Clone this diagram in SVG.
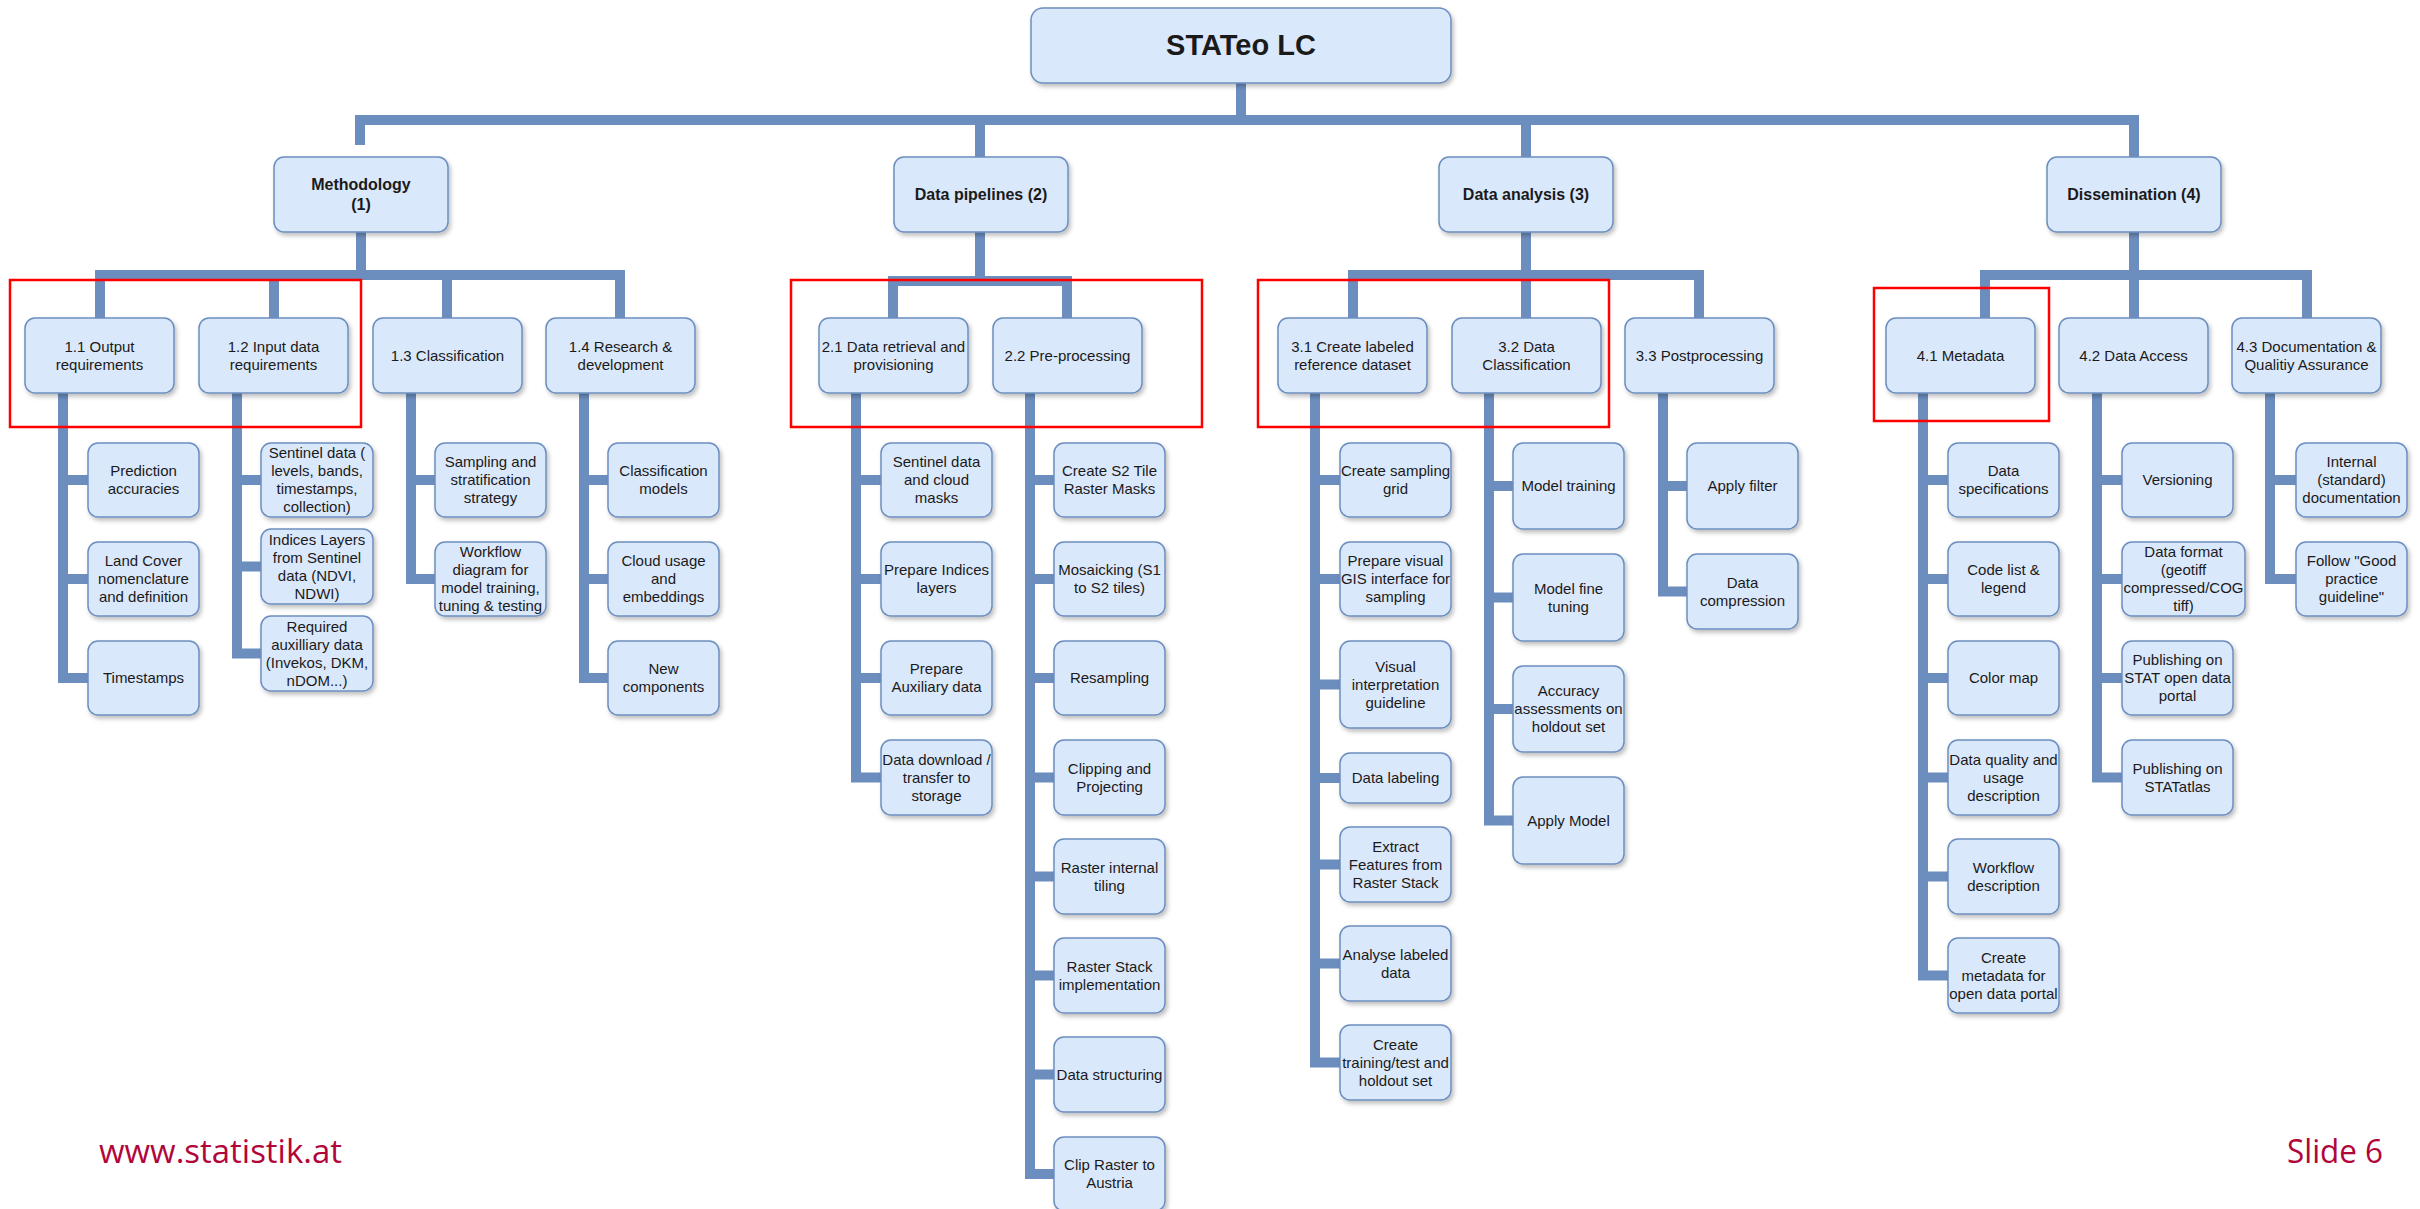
<svg xmlns="http://www.w3.org/2000/svg" width="2420" height="1209" viewBox="0 0 2420 1209">
<defs>
<filter id="sh" x="-10%" y="-10%" width="130%" height="140%">
<feDropShadow dx="2" dy="3" stdDeviation="2" flood-color="#000" flood-opacity="0.25"/>
</filter>
<style>
.box{fill:#dae8fc;stroke:#6c8ebf;stroke-width:1.5;filter:url(#sh)}
.t{font-family:"Liberation Sans",Arial,sans-serif;font-size:15px;fill:#1a1a1a;text-anchor:middle}
.b{font-weight:bold;font-size:16px}
.c{fill:none;stroke:#6c8ebf;stroke-width:10;stroke-linejoin:miter}
.red{fill:none;stroke:#ff0000;stroke-width:2.5}
.foot{font-family:"Open Sans","Liberation Sans",sans-serif;font-size:33px;fill:#b1063a}
</style>
</defs>
<rect width="2420" height="1209" fill="#ffffff"/>

<g id="connectors" class="c">
<path d="M1241 83V120H360V145"/>
<path d="M1241 120H980V157"/>
<path d="M1241 120H1526V157"/>
<path d="M1241 120H2134V157"/>
<path d="M361 232V275H100V318M361 275H274V318M361 275H447V318M361 275H620V318"/>
<path d="M980 232V281H893V318M980 281H1067V318"/>
<path d="M1526 232V318M1526 275H1353V318M1526 275H1699V318"/>
<path d="M2134 232V318M2134 275H1985V318M2134 275H2307V318"/>
<path d="M63 393V678H88M63 480H88M63 579H88"/>
<path d="M237 393V653.5H261M237 480H261M237 566.5H261"/>
<path d="M411 393V579H435M411 480H435"/>
<path d="M584 393V678H608M584 480H608M584 579H608"/>
<path d="M856 393V777.5H881M856 480H881M856 579H881M856 678H881"/>
<path d="M1030 393V1174H1054M1030 480H1054M1030 579H1054M1030 678H1054M1030 777.5H1054M1030 876.5H1054M1030 975.5H1054M1030 1074.5H1054"/>
<path d="M1315 393V1062.5H1340M1315 480H1340M1315 579H1340M1315 684.5H1340M1315 778H1340M1315 864.5H1340M1315 963.5H1340"/>
<path d="M1489 393V820.5H1513M1489 486H1513M1489 597.5H1513M1489 709H1513"/>
<path d="M1663 393V591.5H1687M1663 486H1687"/>
<path d="M1923 393V975.5H1948M1923 480H1948M1923 579H1948M1923 678H1948M1923 777.5H1948M1923 876.5H1948"/>
<path d="M2097 393V777.5H2122M2097 480H2122M2097 579H2122M2097 678H2122"/>
<path d="M2270 393V579H2296M2270 480H2296"/>
</g>

<g id="root"><rect class="box" x="1031" y="8" width="420" height="75" rx="12"/><text class="t" x="1241" y="55" style="font-weight:bold;font-size:29px">STATeo LC</text></g>

<g id="n1"><rect class="box" x="274" y="157" width="174" height="75" rx="10"/><text class="t b"><tspan x="361" y="190">Methodology</tspan><tspan x="361" y="210">(1)</tspan></text></g>
<g id="n2"><rect class="box" x="894" y="157" width="174" height="75" rx="10"/><text class="t b" x="981" y="200">Data pipelines (2)</text></g>
<g id="n3"><rect class="box" x="1439" y="157" width="174" height="75" rx="10"/><text class="t b" x="1526" y="200">Data analysis (3)</text></g>
<g id="n4"><rect class="box" x="2047" y="157" width="174" height="75" rx="10"/><text class="t b" x="2134" y="200">Dissemination (4)</text></g>

<g id="n1_1"><rect class="box" x="25" y="318" width="149" height="75" rx="10"/><text class="t"><tspan x="99.5" y="351.5">1.1 Output</tspan><tspan x="99.5" y="369.5">requirements</tspan></text></g>
<g id="n1_2"><rect class="box" x="199" y="318" width="149" height="75" rx="10"/><text class="t"><tspan x="273.5" y="351.5">1.2 Input data</tspan><tspan x="273.5" y="369.5">requirements</tspan></text></g>
<g id="n1_3"><rect class="box" x="373" y="318" width="149" height="75" rx="10"/><text class="t" x="447.5" y="360.5">1.3 Classification</text></g>
<g id="n1_4"><rect class="box" x="546" y="318" width="149" height="75" rx="10"/><text class="t"><tspan x="620.5" y="351.5">1.4 Research &amp;</tspan><tspan x="620.5" y="369.5">development</tspan></text></g>
<g id="n2_1"><rect class="box" x="819" y="318" width="149" height="75" rx="10"/><text class="t"><tspan x="893.5" y="351.5">2.1 Data retrieval and</tspan><tspan x="893.5" y="369.5">provisioning</tspan></text></g>
<g id="n2_2"><rect class="box" x="993" y="318" width="149" height="75" rx="10"/><text class="t" x="1067.5" y="360.5">2.2 Pre-processing</text></g>
<g id="n3_1"><rect class="box" x="1278" y="318" width="149" height="75" rx="10"/><text class="t"><tspan x="1352.5" y="351.5">3.1 Create labeled</tspan><tspan x="1352.5" y="369.5">reference dataset</tspan></text></g>
<g id="n3_2"><rect class="box" x="1452" y="318" width="149" height="75" rx="10"/><text class="t"><tspan x="1526.5" y="351.5">3.2 Data</tspan><tspan x="1526.5" y="369.5">Classification</tspan></text></g>
<g id="n3_3"><rect class="box" x="1625" y="318" width="149" height="75" rx="10"/><text class="t" x="1699.5" y="360.5">3.3 Postprocessing</text></g>
<g id="n4_1"><rect class="box" x="1886" y="318" width="149" height="75" rx="10"/><text class="t" x="1960.5" y="360.5">4.1 Metadata</text></g>
<g id="n4_2"><rect class="box" x="2059" y="318" width="149" height="75" rx="10"/><text class="t" x="2133.5" y="360.5">4.2 Data Access</text></g>
<g id="n4_3"><rect class="box" x="2232" y="318" width="149" height="75" rx="10"/><text class="t"><tspan x="2306.5" y="351.5">4.3 Documentation &amp;</tspan><tspan x="2306.5" y="369.5">Qualitiy Assurance</tspan></text></g>

<!-- column 1.1 -->
<g id="l1_1_1"><rect class="box" x="88" y="443" width="111" height="74" rx="10"/><text class="t"><tspan x="143.5" y="476">Prediction</tspan><tspan x="143.5" y="494">accuracies</tspan></text></g>
<g id="l1_1_2"><rect class="box" x="88" y="542" width="111" height="74" rx="10"/><text class="t"><tspan x="143.5" y="566">Land Cover</tspan><tspan x="143.5" y="584">nomenclature</tspan><tspan x="143.5" y="602">and definition</tspan></text></g>
<g id="l1_1_3"><rect class="box" x="88" y="641" width="111" height="74" rx="10"/><text class="t" x="143.5" y="683">Timestamps</text></g>
<!-- column 1.2 -->
<g id="l1_2_1"><rect class="box" x="261" y="443" width="112" height="74" rx="10"/><text class="t"><tspan x="317" y="458">Sentinel data (</tspan><tspan x="317" y="476">levels, bands,</tspan><tspan x="317" y="494">timestamps,</tspan><tspan x="317" y="512">collection)</tspan></text></g>
<g id="l1_2_2"><rect class="box" x="261" y="529" width="112" height="75" rx="10"/><text class="t"><tspan x="317" y="544.5">Indices Layers</tspan><tspan x="317" y="562.5">from Sentinel</tspan><tspan x="317" y="580.5">data (NDVI,</tspan><tspan x="317" y="598.5">NDWI)</tspan></text></g>
<g id="l1_2_3"><rect class="box" x="261" y="616" width="112" height="75" rx="10"/><text class="t"><tspan x="317" y="631.5">Required</tspan><tspan x="317" y="649.5">auxilliary data</tspan><tspan x="317" y="667.5">(Invekos, DKM,</tspan><tspan x="317" y="685.5">nDOM...)</tspan></text></g>
<!-- column 1.3 -->
<g id="l1_3_1"><rect class="box" x="435" y="443" width="111" height="74" rx="10"/><text class="t"><tspan x="490.5" y="467">Sampling and</tspan><tspan x="490.5" y="485">stratification</tspan><tspan x="490.5" y="503">strategy</tspan></text></g>
<g id="l1_3_2"><rect class="box" x="435" y="542" width="111" height="74" rx="10"/><text class="t"><tspan x="490.5" y="557">Workflow</tspan><tspan x="490.5" y="575">diagram for</tspan><tspan x="490.5" y="593">model training,</tspan><tspan x="490.5" y="611">tuning &amp; testing</tspan></text></g>
<!-- column 1.4 -->
<g id="l1_4_1"><rect class="box" x="608" y="443" width="111" height="74" rx="10"/><text class="t"><tspan x="663.5" y="476">Classification</tspan><tspan x="663.5" y="494">models</tspan></text></g>
<g id="l1_4_2"><rect class="box" x="608" y="542" width="111" height="74" rx="10"/><text class="t"><tspan x="663.5" y="566">Cloud usage</tspan><tspan x="663.5" y="584">and</tspan><tspan x="663.5" y="602">embeddings</tspan></text></g>
<g id="l1_4_3"><rect class="box" x="608" y="641" width="111" height="74" rx="10"/><text class="t"><tspan x="663.5" y="674">New</tspan><tspan x="663.5" y="692">components</tspan></text></g>
<!-- column 2.1 -->
<g id="l2_1_1"><rect class="box" x="881" y="443" width="111" height="74" rx="10"/><text class="t"><tspan x="936.5" y="467">Sentinel data</tspan><tspan x="936.5" y="485">and cloud</tspan><tspan x="936.5" y="503">masks</tspan></text></g>
<g id="l2_1_2"><rect class="box" x="881" y="542" width="111" height="74" rx="10"/><text class="t"><tspan x="936.5" y="575">Prepare Indices</tspan><tspan x="936.5" y="593">layers</tspan></text></g>
<g id="l2_1_3"><rect class="box" x="881" y="641" width="111" height="74" rx="10"/><text class="t"><tspan x="936.5" y="674">Prepare</tspan><tspan x="936.5" y="692">Auxiliary data</tspan></text></g>
<g id="l2_1_4"><rect class="box" x="881" y="740" width="111" height="75" rx="10"/><text class="t"><tspan x="936.5" y="764.5">Data download /</tspan><tspan x="936.5" y="782.5">transfer to</tspan><tspan x="936.5" y="800.5">storage</tspan></text></g>
<!-- column 2.2 -->
<g id="l2_2_1"><rect class="box" x="1054" y="443" width="111" height="74" rx="10"/><text class="t"><tspan x="1109.5" y="476">Create S2 Tile</tspan><tspan x="1109.5" y="494">Raster Masks</tspan></text></g>
<g id="l2_2_2"><rect class="box" x="1054" y="542" width="111" height="74" rx="10"/><text class="t"><tspan x="1109.5" y="575">Mosaicking (S1</tspan><tspan x="1109.5" y="593">to S2 tiles)</tspan></text></g>
<g id="l2_2_3"><rect class="box" x="1054" y="641" width="111" height="74" rx="10"/><text class="t" x="1109.5" y="683">Resampling</text></g>
<g id="l2_2_4"><rect class="box" x="1054" y="740" width="111" height="75" rx="10"/><text class="t"><tspan x="1109.5" y="773.5">Clipping and</tspan><tspan x="1109.5" y="791.5">Projecting</tspan></text></g>
<g id="l2_2_5"><rect class="box" x="1054" y="839" width="111" height="75" rx="10"/><text class="t"><tspan x="1109.5" y="872.5">Raster internal</tspan><tspan x="1109.5" y="890.5">tiling</tspan></text></g>
<g id="l2_2_6"><rect class="box" x="1054" y="938" width="111" height="75" rx="10"/><text class="t"><tspan x="1109.5" y="971.5">Raster Stack</tspan><tspan x="1109.5" y="989.5">implementation</tspan></text></g>
<g id="l2_2_7"><rect class="box" x="1054" y="1037" width="111" height="75" rx="10"/><text class="t" x="1109.5" y="1079.5">Data structuring</text></g>
<g id="l2_2_8"><rect class="box" x="1054" y="1137" width="111" height="74" rx="10"/><text class="t"><tspan x="1109.5" y="1170">Clip Raster to</tspan><tspan x="1109.5" y="1188">Austria</tspan></text></g>
<!-- column 3.1 -->
<g id="l3_1_1"><rect class="box" x="1340" y="443" width="111" height="74" rx="10"/><text class="t"><tspan x="1395.5" y="476">Create sampling</tspan><tspan x="1395.5" y="494">grid</tspan></text></g>
<g id="l3_1_2"><rect class="box" x="1340" y="542" width="111" height="74" rx="10"/><text class="t"><tspan x="1395.5" y="566">Prepare visual</tspan><tspan x="1395.5" y="584">GIS interface for</tspan><tspan x="1395.5" y="602">sampling</tspan></text></g>
<g id="l3_1_3"><rect class="box" x="1340" y="641" width="111" height="87" rx="10"/><text class="t"><tspan x="1395.5" y="671.5">Visual</tspan><tspan x="1395.5" y="689.5">interpretation</tspan><tspan x="1395.5" y="707.5">guideline</tspan></text></g>
<g id="l3_1_4"><rect class="box" x="1340" y="753" width="111" height="50" rx="10"/><text class="t" x="1395.5" y="783">Data labeling</text></g>
<g id="l3_1_5"><rect class="box" x="1340" y="827" width="111" height="75" rx="10"/><text class="t"><tspan x="1395.5" y="851.5">Extract</tspan><tspan x="1395.5" y="869.5">Features from</tspan><tspan x="1395.5" y="887.5">Raster Stack</tspan></text></g>
<g id="l3_1_6"><rect class="box" x="1340" y="926" width="111" height="75" rx="10"/><text class="t"><tspan x="1395.5" y="959.5">Analyse labeled</tspan><tspan x="1395.5" y="977.5">data</tspan></text></g>
<g id="l3_1_7"><rect class="box" x="1340" y="1025" width="111" height="75" rx="10"/><text class="t"><tspan x="1395.5" y="1049.5">Create</tspan><tspan x="1395.5" y="1067.5">training/test and</tspan><tspan x="1395.5" y="1085.5">holdout set</tspan></text></g>
<!-- column 3.2 -->
<g id="l3_2_1"><rect class="box" x="1513" y="443" width="111" height="86" rx="10"/><text class="t" x="1568.5" y="491">Model training</text></g>
<g id="l3_2_2"><rect class="box" x="1513" y="554" width="111" height="87" rx="10"/><text class="t"><tspan x="1568.5" y="593.5">Model fine</tspan><tspan x="1568.5" y="611.5">tuning</tspan></text></g>
<g id="l3_2_3"><rect class="box" x="1513" y="666" width="111" height="86" rx="10"/><text class="t"><tspan x="1568.5" y="696">Accuracy</tspan><tspan x="1568.5" y="714">assessments on</tspan><tspan x="1568.5" y="732">holdout set</tspan></text></g>
<g id="l3_2_4"><rect class="box" x="1513" y="777" width="111" height="87" rx="10"/><text class="t" x="1568.5" y="825.5">Apply Model</text></g>
<!-- column 3.3 -->
<g id="l3_3_1"><rect class="box" x="1687" y="443" width="111" height="86" rx="10"/><text class="t" x="1742.5" y="491">Apply filter</text></g>
<g id="l3_3_2"><rect class="box" x="1687" y="554" width="111" height="75" rx="10"/><text class="t"><tspan x="1742.5" y="587.5">Data</tspan><tspan x="1742.5" y="605.5">compression</tspan></text></g>
<!-- column 4.1 -->
<g id="l4_1_1"><rect class="box" x="1948" y="443" width="111" height="74" rx="10"/><text class="t"><tspan x="2003.5" y="476">Data</tspan><tspan x="2003.5" y="494">specifications</tspan></text></g>
<g id="l4_1_2"><rect class="box" x="1948" y="542" width="111" height="74" rx="10"/><text class="t"><tspan x="2003.5" y="575">Code list &amp;</tspan><tspan x="2003.5" y="593">legend</tspan></text></g>
<g id="l4_1_3"><rect class="box" x="1948" y="641" width="111" height="74" rx="10"/><text class="t" x="2003.5" y="683">Color map</text></g>
<g id="l4_1_4"><rect class="box" x="1948" y="740" width="111" height="75" rx="10"/><text class="t"><tspan x="2003.5" y="764.5">Data quality and</tspan><tspan x="2003.5" y="782.5">usage</tspan><tspan x="2003.5" y="800.5">description</tspan></text></g>
<g id="l4_1_5"><rect class="box" x="1948" y="839" width="111" height="75" rx="10"/><text class="t"><tspan x="2003.5" y="872.5">Workflow</tspan><tspan x="2003.5" y="890.5">description</tspan></text></g>
<g id="l4_1_6"><rect class="box" x="1948" y="938" width="111" height="75" rx="10"/><text class="t"><tspan x="2003.5" y="962.5">Create</tspan><tspan x="2003.5" y="980.5">metadata for</tspan><tspan x="2003.5" y="998.5">open data portal</tspan></text></g>
<!-- column 4.2 -->
<g id="l4_2_1"><rect class="box" x="2122" y="443" width="111" height="74" rx="10"/><text class="t" x="2177.5" y="485">Versioning</text></g>
<g id="l4_2_2"><rect class="box" x="2122" y="542" width="123" height="74" rx="10"/><text class="t"><tspan x="2183.5" y="557">Data format</tspan><tspan x="2183.5" y="575">(geotiff</tspan><tspan x="2183.5" y="593">compressed/COG</tspan><tspan x="2183.5" y="611">tiff)</tspan></text></g>
<g id="l4_2_3"><rect class="box" x="2122" y="641" width="111" height="74" rx="10"/><text class="t"><tspan x="2177.5" y="665">Publishing on</tspan><tspan x="2177.5" y="683">STAT open data</tspan><tspan x="2177.5" y="701">portal</tspan></text></g>
<g id="l4_2_4"><rect class="box" x="2122" y="740" width="111" height="75" rx="10"/><text class="t"><tspan x="2177.5" y="773.5">Publishing on</tspan><tspan x="2177.5" y="791.5">STATatlas</tspan></text></g>
<!-- column 4.3 -->
<g id="l4_3_1"><rect class="box" x="2296" y="443" width="111" height="74" rx="10"/><text class="t"><tspan x="2351.5" y="467">Internal</tspan><tspan x="2351.5" y="485">(standard)</tspan><tspan x="2351.5" y="503">documentation</tspan></text></g>
<g id="l4_3_2"><rect class="box" x="2296" y="542" width="111" height="74" rx="10"/><text class="t"><tspan x="2351.5" y="566">Follow "Good</tspan><tspan x="2351.5" y="584">practice</tspan><tspan x="2351.5" y="602">guideline"</tspan></text></g>

<g id="highlights">
<rect class="red" x="10" y="280" width="351" height="147"/>
<rect class="red" x="791" y="280" width="411" height="147"/>
<rect class="red" x="1258" y="280" width="351" height="147"/>
<rect class="red" x="1874" y="288" width="175" height="133"/>
</g>

<text class="foot" x="99" y="1163" textLength="243" lengthAdjust="spacingAndGlyphs">www.statistik.at</text>
<text class="foot" x="2287" y="1163" textLength="96" lengthAdjust="spacingAndGlyphs">Slide 6</text>
</svg>
